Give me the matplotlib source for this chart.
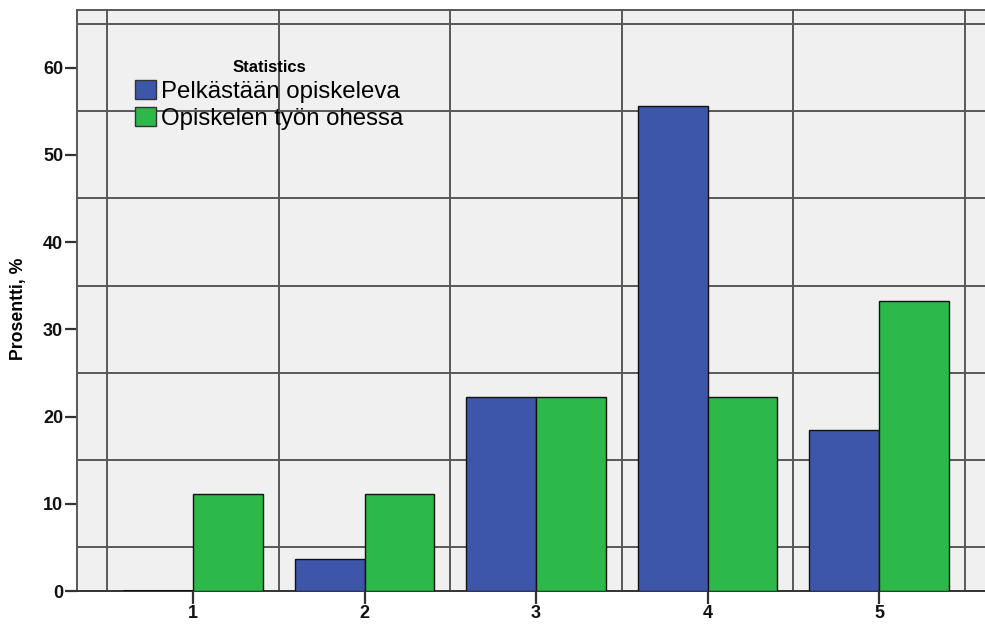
import matplotlib
matplotlib.use("Agg")
import matplotlib.pyplot as plt
import numpy as np

plt.rcParams['font.family'] = ['Liberation Sans', 'DejaVu Sans']

categories = ['1', '2', '3', '4', '5']
series_names = ['Pelkästään opiskeleva', 'Opiskelen työn ohessa']
pelkastaan = [0.0, 3.7, 22.2, 55.6, 18.5]
tyon_ohessa = [11.1, 11.1, 22.2, 22.2, 33.3]
y_ticks = [0, 10, 20, 30, 40, 50, 60]
legend_title = 'Statistics'
y_label = 'Prosentti, %'

blue = '#3D56A9'
green = '#2DB84A'
grid_col = '#575757'
bg = '#F0F0F0'

fig = plt.figure(figsize=(9.85, 6.24), dpi=100)
ax = fig.add_axes([77 / 985, 1 - 591 / 624, 1 - 77 / 985, 581 / 624])
ax.set_facecolor(bg)

x = np.arange(1, len(categories) + 1)
w = 0.408
ax.bar(x - w / 2, pelkastaan, width=w, color=blue, edgecolor='#111111',
       linewidth=1.0, label=series_names[0], zorder=3)
ax.bar(x + w / 2, tyon_ohessa, width=w, color=green, edgecolor='#111111',
       linewidth=1.0, label=series_names[1], zorder=3)
# zero-height bar shown as a dark baseline segment
for xi, v in zip(x, pelkastaan):
    if v == 0:
        ax.plot([xi - w, xi], [0, 0], color='#111111', lw=2.2, zorder=4,
                solid_capstyle='butt')

ax.set_xlim(0.3236, 5.618)
ax.set_ylim(0, 66.6)

ax.set_xticks(x)
ax.set_xticklabels(categories)
ax.set_yticks(y_ticks)
ax.set_xticks(np.arange(0.5, 6.0, 1.0), minor=True)
ax.set_yticks(np.arange(5, 70, 10), minor=True)

ax.grid(which='minor', color=grid_col, linewidth=1.4, zorder=1)
ax.grid(which='major', visible=False)
ax.set_axisbelow(True)

ax.tick_params(which='minor', length=0)
ax.tick_params(which='major', direction='out', length=9, width=1.6,
               color='#333333', pad=1, labelsize=13)
for lab in ax.get_xticklabels() + ax.get_yticklabels():
    lab.set_fontweight('bold')
    lab.set_color('#111111')

for side in ['left', 'top', 'bottom']:
    ax.spines[side].set_color(grid_col)
    ax.spines[side].set_linewidth(1.4)
ax.spines['bottom'].set_color('#333333')
ax.spines['right'].set_visible(False)

ax.set_ylabel(y_label, fontsize=12.7, fontweight='bold')
ax.yaxis.set_label_coords(-0.055, 0.485)

leg = ax.legend(title=legend_title, loc='upper left',
                bbox_to_anchor=(135 / 985, 1 - 60 / 624),
                bbox_transform=fig.transFigure, frameon=False,
                fontsize=17.3, title_fontproperties={'weight': 'bold', 'size': 12},
                handlelength=0.875, handleheight=0.83, handletextpad=0.2,
                labelspacing=0.2, borderpad=0, borderaxespad=0)
for h in leg.legend_handles:
    h.set_edgecolor('#333333')
    h.set_linewidth(1.0)

fig.savefig('out.png', dpi=100, facecolor='white')
